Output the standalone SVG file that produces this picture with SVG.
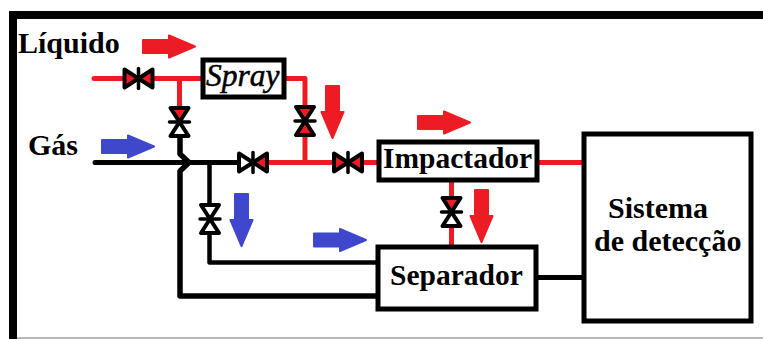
<svg xmlns="http://www.w3.org/2000/svg" width="763" height="339" viewBox="0 0 763 339">
<style>
.r{fill:none;stroke:#ed1c24;stroke-width:5;stroke-linejoin:round;stroke-linecap:round}
.k{fill:none;stroke:#000;stroke-width:5;stroke-linejoin:round;stroke-linecap:round}
.box{fill:#fff;stroke:#000;stroke-width:5}
.t{font-family:"Liberation Serif","Times New Roman",serif;font-weight:bold;font-size:30px;fill:#000}
.n{font-size:29.500px}
.s{font-family:"Liberation Serif","Times New Roman",serif;font-style:italic;font-size:31.500px;fill:#000;stroke:#000;stroke-width:.5}
.tri{stroke:#000;stroke-width:4;stroke-linejoin:round}
.red{fill:#ed1c24}.wh{fill:#fff}
.bar{stroke:#000;stroke-width:3.500;stroke-linecap:round}
.ra{fill:#ed1c24;stroke:#ed1c24;stroke-width:2;stroke-linejoin:round}
.ba{fill:#3f48cc;stroke:#3f48cc;stroke-width:2;stroke-linejoin:round}
</style>
<defs>
<path id="arrow" d="M-26,-6.500H0V-11L26,0L0,11V6.500H-26Z"/>
<path id="triA" d="M-14,-9L0,0L-14,9Z"/>
<path id="triB" d="M14,-9L0,0L14,9Z"/>
<path id="stem" d="M0,-10V10"/>
</defs>
<rect width="763" height="339" fill="#fff"/>
<g id="frame"><path d="M13,339V15H763" fill="none" stroke="#000" stroke-width="8"/><path d="M17,338H763" stroke="#a0a0a0" stroke-width="1.500"/></g>
<g id="connectors">
<path class="r" d="M94,78.500H203M179.500,78.500V112"/>
<path class="r" d="M286,78.500H305V162.500M268,162.500H378"/>
<path class="r" d="M539,162.500H582"/>
<path class="r" d="M451.500,182V245" style="stroke-linecap:butt"/>
<path class="k" d="M95,162.500H240"/>
<path class="k" d="M180,135V154L189,162.500L180,171V296H378" style="stroke-width:5.500"/>
<path class="k" d="M209.500,162.500V262.500H378" style="stroke-width:4.500"/>
<path class="k" d="M538,277.500H582" style="stroke-linecap:butt"/>
</g>
<g id="valve-liquido" transform="translate(138.500,78.500)"><use href="#triA" class="tri red"/><use href="#triB" class="tri red"/><use href="#stem" class="bar"/></g>
<g id="valve-cruzada" transform="translate(179.500,122) rotate(90)"><use href="#triA" class="tri red"/><use href="#triB" class="tri wh"/><use href="#stem" class="bar"/></g>
<g id="valve-spray" transform="translate(305,121) rotate(90)"><use href="#triA" class="tri red"/><use href="#triB" class="tri red"/><use href="#stem" class="bar"/></g>
<g id="valve-gas" transform="translate(253,162.500)"><use href="#triA" class="tri wh"/><use href="#triB" class="tri red"/><use href="#stem" class="bar"/></g>
<g id="valve-impactador" transform="translate(348,162.500)"><use href="#triA" class="tri red"/><use href="#triB" class="tri red"/><use href="#stem" class="bar"/></g>
<g id="valve-separador-gas" transform="translate(210,219) rotate(90)"><use href="#triA" class="tri wh"/><use href="#triB" class="tri wh"/><use href="#stem" class="bar"/></g>
<g id="valve-separador" transform="translate(451.500,212) rotate(90)"><use href="#triA" class="tri red"/><use href="#triB" class="tri wh"/><use href="#stem" class="bar"/></g>
<g id="flow-arrows">
<use href="#arrow" class="ra" transform="translate(169,46.500)"/>
<use href="#arrow" class="ba" transform="translate(128,146.500)"/>
<use href="#arrow" class="ra" transform="translate(332.500,112) rotate(90)"/>
<use href="#arrow" class="ra" transform="translate(444,122.500)"/>
<use href="#arrow" class="ra" transform="translate(481.500,216) rotate(90)"/>
<use href="#arrow" class="ba" transform="translate(241.500,220) rotate(90)"/>
<use href="#arrow" class="ba" transform="translate(340,240)"/>
</g>
<g id="label-liquido"><text class="t" x="18" y="53">Líquido</text></g>
<g id="label-gas"><text class="t" x="28" y="155">Gás</text></g>
<g id="node-spray"><rect class="box" x="203" y="60" width="81" height="37"/><text class="s" x="206" y="86">Spray</text></g>
<g id="node-impactador"><rect class="box" x="379" y="142" width="158" height="38"/><text class="t n" x="383" y="168">Impactador</text></g>
<g id="node-separador"><rect class="box" x="378" y="247" width="158" height="62"/><text class="t n" x="390" y="285">Separador</text></g>
<g id="node-sistema"><rect class="box" x="584" y="134" width="167" height="187"/><text class="t" x="608" y="218">Sistema</text><text class="t" x="594" y="251">de detecção</text></g>
</svg>
